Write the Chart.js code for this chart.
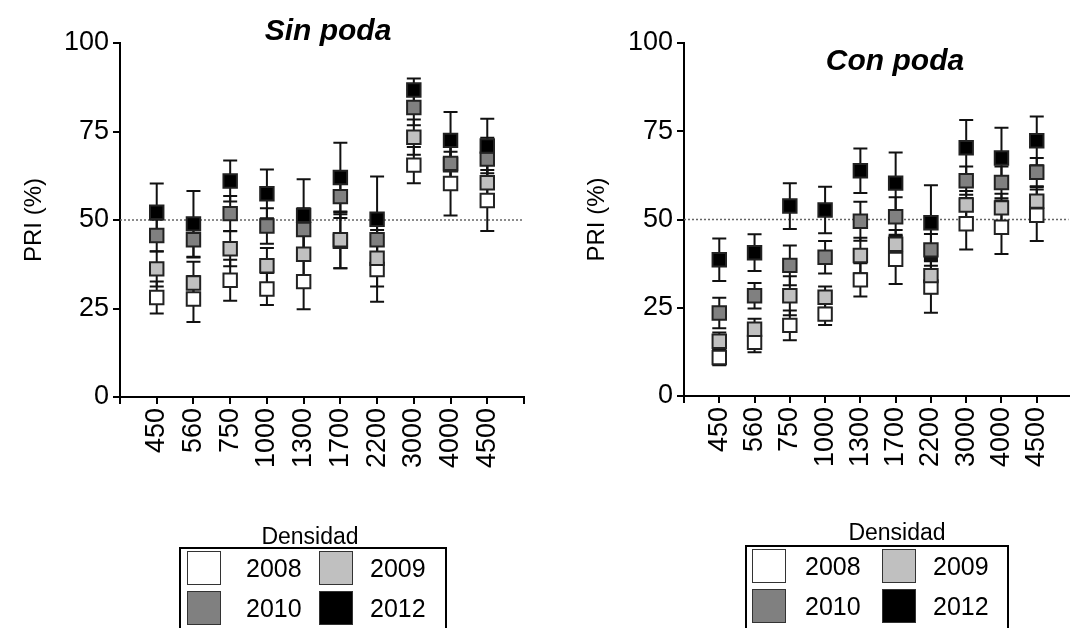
<!DOCTYPE html>
<html>
<head>
<meta charset="utf-8">
<script src="https://cdn.jsdelivr.net/npm/chart.js@4.4.0/dist/chart.umd.min.js"></script>
<style>
  body { margin: 0; background: #fff; font-family: "Liberation Sans", Arial, sans-serif; color: #000; }
  #page { position: relative; width: 1080px; height: 628px; overflow: hidden; }
  canvas { position: absolute; top: 0; }
  .title { position: absolute; font-weight: bold; font-style: italic; font-size: 30px; transform: translate(-50%, -50%); white-space: nowrap; }
  .xtitle { position: absolute; font-size: 23px; transform: translate(-50%, -50%); white-space: nowrap; }
  .legend { position: absolute; border: 2px solid #000; border-bottom: none; height: 95px; box-sizing: border-box; }
  .sw { position: absolute; width: 34px; height: 34px; border: 1.5px solid #333; box-sizing: border-box; }
  .lt { position: absolute; font-size: 25px; line-height: 34px; }
</style>
</head>
<body>
<div id="page">
  <canvas id="sinChart" width="540" height="628" style="left:0"></canvas>
  <canvas id="conChart" width="540" height="628" style="left:540px"></canvas>
  <div class="title" style="left:328px; top:30px">Sin poda</div>
  <div class="title" style="left:895px; top:60px">Con poda</div>
  <div class="xtitle" style="left:310px; top:536px">Densidad</div>
  <div class="xtitle" style="left:897px; top:532px">Densidad</div>
  <div class="legend" id="sinLegend" style="left:179px; top:547px; width:268px"></div>
  <div class="legend" id="conLegend" style="left:745px; top:545px; width:264px"></div>
</div>
<script>
// Categories
const densities = ['450', '560', '750', '1000', '1300', '1700', '2200', '3000', '4000', '4500'];
const years = ['2008', '2009', '2010', '2012'];
const yearColors = ['#ffffff', '#c0c0c0', '#808080', '#000000'];
const yTicks = [0, 25, 50, 75, 100];

// Sin poda (means, PRI %)
const sin2008 = [28.1, 27.7, 33.0, 30.5, 32.6, 44.0, 36.0, 65.5, 60.3, 55.5];
const sin2009 = [36.2, 32.2, 41.9, 37.1, 40.3, 44.4, 39.2, 73.4, 65.6, 60.5];
const sin2010 = [45.6, 44.4, 51.8, 48.3, 47.3, 56.6, 44.4, 81.8, 66.0, 67.2];
const sin2012 = [52.2, 48.9, 61.0, 57.4, 51.3, 62.0, 50.2, 86.7, 72.5, 70.9];
// Sin poda error bars
const sin2008Err = [4.5, 6.5, 5.8, 4.5, 7.8, 7.6, 9.1, 5.1, 9.0, 8.6];
const sin2009Err = [5.0, 6.0, 5.0, 5.0, 8.0, 8.0, 8.0, 5.0, 6.0, 6.0];
const sin2010Err = [4.5, 5.0, 5.0, 5.0, 6.0, 6.0, 7.0, 5.0, 6.0, 6.0];
const sin2012Err = [8.1, 9.3, 5.8, 6.9, 10.2, 9.8, 12.1, 3.3, 8.0, 7.7];

// Con poda (means, PRI %)
const con2008 = [10.9, 15.2, 20.0, 23.2, 32.9, 38.7, 30.9, 48.8, 47.8, 51.2];
const con2009 = [15.5, 18.9, 28.4, 28.0, 39.8, 43.0, 34.1, 54.1, 53.3, 55.2];
const con2010 = [23.5, 28.4, 37.0, 39.3, 49.5, 50.8, 41.4, 61.0, 60.5, 63.4];
const con2012 = [38.6, 40.6, 53.8, 52.7, 63.8, 60.3, 49.1, 70.3, 67.4, 72.3];
// Con poda error bars
const con2008Err = [2.2, 2.8, 4.2, 3.1, 4.7, 7.0, 7.3, 7.3, 7.6, 7.3];
const con2009Err = [2.5, 3.0, 5.5, 3.0, 5.0, 4.0, 5.0, 4.0, 4.0, 4.0];
const con2010Err = [4.3, 3.6, 5.6, 4.6, 5.5, 5.5, 4.5, 4.0, 4.5, 4.0];
const con2012Err = [6.0, 5.2, 6.5, 6.6, 6.3, 8.7, 10.6, 7.9, 8.6, 6.9];

Chart.defaults.font.family = '"Liberation Sans", Arial, sans-serif';
Chart.defaults.color = '#000';

// error bars + dotted line at 50, drawn under the markers
const errorBars = {
    id: 'errorBars',
    beforeDatasetsDraw(chart) {
        const { ctx, chartArea, scales: { x, y } } = chart;
        ctx.save();
        // reference line
        const y50 = y.getPixelForValue(50);
        ctx.strokeStyle = '#666';
        ctx.lineWidth = 1.5;
        ctx.setLineDash([2, 2]);
        ctx.beginPath();
        ctx.moveTo(chartArea.left, y50);
        ctx.lineTo(chartArea.right, y50);
        ctx.stroke();
        ctx.setLineDash([]);

        ctx.strokeStyle = '#111';
        ctx.lineWidth = 2;
        chart.data.datasets.forEach(ds => {
            ds.data.forEach((p, j) => {
                const px = x.getPixelForValue(p.x);
                const top = y.getPixelForValue(p.y + ds.errors[j]);
                const bot = y.getPixelForValue(p.y - ds.errors[j]);
                ctx.beginPath();
                ctx.moveTo(px, top); ctx.lineTo(px, bot);
                ctx.moveTo(px - 7, top); ctx.lineTo(px + 7, top);
                ctx.moveTo(px - 7, bot); ctx.lineTo(px + 7, bot);
                ctx.stroke();
            });
        });
        ctx.restore();
    }
};

function makeDatasets(series, errs) {
    return series.map((vals, i) => ({
        label: years[i],
        data: vals.map((v, j) => ({ x: j + 1, y: v })),
        errors: errs[i],
        pointStyle: 'rect',
        pointRadius: 9.5,
        pointHoverRadius: 9.5,
        backgroundColor: yearColors[i],
        borderColor: '#222',
        borderWidth: 2,
        showLine: false,
        order: 3 - i
    }));
}

function makeChart(id, datasets, opt) {
    return new Chart(document.getElementById(id), {
        type: 'scatter',
        data: { datasets },
        plugins: [errorBars],
        options: {
            responsive: false,
            animation: false,
            devicePixelRatio: 1,
            layout: { padding: { left: 0, top: 43, right: opt.padRight, bottom: 0 } },
            plugins: { legend: { display: false }, tooltip: { enabled: false } },
            scales: {
                x: {
                    type: 'linear',
                    min: 0,
                    max: opt.xMax,
                    afterFit: s => { s.height = opt.xHeight; s.paddingLeft = 0; s.paddingRight = 0; },
                    ticks: {
                        stepSize: 1,
                        autoSkip: false,
                        includeBounds: false,
                        minRotation: 90,
                        maxRotation: 90,
                        padding: 4,
                        font: { size: 27 },
                        callback: v => densities[v - 1] || ''
                    },
                    grid: { drawOnChartArea: false, tickLength: 7, color: '#000', lineWidth: 2 },
                    border: { color: '#000', width: 2 }
                },
                y: {
                    min: 0,
                    max: 100,
                    afterFit: s => { s.width = opt.yWidth; },
                    afterBuildTicks: s => { s.ticks = yTicks.map(v => ({ value: v })); },
                    ticks: { padding: 4, font: { size: 27 } },
                    grid: { drawOnChartArea: false, tickLength: 7, color: '#000', lineWidth: 2 },
                    border: { color: '#000', width: 2 },
                    title: { display: true, text: 'PRI (%)', font: { size: 24 }, padding: { top: opt.titlePad, bottom: 0 } }
                }
            }
        }
    });
}

makeChart('sinChart',
    makeDatasets([sin2008, sin2009, sin2010, sin2012], [sin2008Err, sin2009Err, sin2010Err, sin2012Err]),
    { xMax: 11, padRight: 16, xHeight: 231, yWidth: 120, titlePad: 20 });

makeChart('conChart',
    makeDatasets([con2008, con2009, con2010, con2012], [con2008Err, con2009Err, con2010Err, con2012Err]),
    { xMax: 10.9, padRight: 0, xHeight: 232, yWidth: 144, titlePad: 43 });

// Legends (2 x 2 boxes)
function buildLegend(id, pos) {
    const box = document.getElementById(id);
    years.forEach((yr, i) => {
        const col = i % 2, row = Math.floor(i / 2);
        const sw = document.createElement('div');
        sw.className = 'sw';
        sw.style.left = pos.sw[col] + 'px';
        sw.style.top = pos.rows[row] + 'px';
        sw.style.background = yearColors[i];
        const t = document.createElement('div');
        t.className = 'lt';
        t.textContent = yr;
        t.style.left = pos.tx[col] + 'px';
        t.style.top = pos.rows[row] + 'px';
        box.appendChild(sw);
        box.appendChild(t);
    });
}
buildLegend('sinLegend', { sw: [6, 138], tx: [65, 189], rows: [2, 42] });
buildLegend('conLegend', { sw: [5, 135], tx: [58, 186], rows: [2, 42] });
</script>
</body>
</html>
